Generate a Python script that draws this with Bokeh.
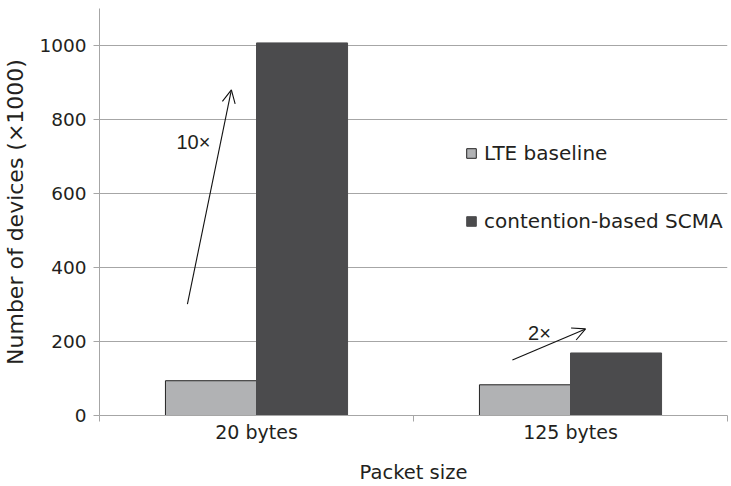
from bokeh.plotting import figure
from bokeh.models import (Range1d, FixedTicker, Legend, LegendItem, Arrow, OpenHead,
                          Label, ColumnDataSource)
from bokeh.transform import dodge
from bokeh.embed import file_html
from bokeh.resources import INLINE

# ---- data ----
categories = ["20 bytes", "125 bytes"]
lte_baseline = [94, 83]
scma = [1007, 169]
series_names = ["LTE baseline", "contention-based SCMA"]
y_ticks = [0, 200, 400, 600, 800, 1000]

# annotations (data coordinates)
arrow_10x = dict(x_start=0.28, y_start=301, x_end=0.42, y_end=880)
label_10x = dict(x=0.245, y=738, text="10\u00d7")
arrow_2x = dict(x_start=1.315, y_start=150, x_end=1.548, y_end=234)
label_2x = dict(x=1.365, y=223, text="2\u00d7")

FONT = "DejaVu Sans"
TXT = "#231f20"
GRID = "#a6a6a6"
LTE_FILL = "#b1b2b4"
SCMA_FILL = "#4b4b4d"

src = ColumnDataSource(dict(
    x=[i + 0.5 for i in range(len(categories))],
    cat=categories, lte=lte_baseline, scma=scma))

p = figure(width=731, height=486, output_backend="svg", toolbar_location=None,
           x_range=Range1d(0, len(categories)), y_range=Range1d(0, 1100),
           min_border_left=99, min_border_right=4, min_border_top=8, min_border_bottom=69)
p.outline_line_color = None
p.background_fill_color = "white"

bw = 0.29
r1 = p.vbar(x=dodge("x", -bw / 2, range=p.x_range), top="lte", width=bw, source=src,
            fill_color=LTE_FILL, line_color="#222222", line_width=1)
r2 = p.vbar(x=dodge("x", bw / 2, range=p.x_range), top="scma", width=bw, source=src,
            fill_color=SCMA_FILL, line_color=SCMA_FILL, line_width=1)

# grid
p.xgrid.visible = False
p.ygrid.ticker = FixedTicker(ticks=y_ticks)
p.ygrid.grid_line_color = GRID
p.ygrid.grid_line_width = 1

# y axis
ya = p.yaxis[0]
ya.ticker = FixedTicker(ticks=y_ticks)
ya.axis_label = "Number of devices (\u00d71000)"
ya.axis_line_color = GRID
ya.major_tick_line_color = GRID
ya.major_tick_out = 6
ya.major_tick_in = 0
ya.minor_tick_line_color = None
ya.major_label_text_font = FONT
ya.major_label_text_font_size = "18.5px"
ya.major_label_text_color = TXT
ya.major_label_standoff = 7
ya.axis_label_text_font = FONT
ya.axis_label_text_font_size = "22px"
ya.axis_label_text_font_style = "normal"
ya.axis_label_text_color = TXT
ya.axis_label_standoff = 8

# x axis: labels at category centres, ticks at category boundaries
xa = p.xaxis[0]
xa.ticker = FixedTicker(ticks=[i + 0.5 for i in range(len(categories))],
                        minor_ticks=list(range(len(categories) + 1)))
xa.major_label_overrides = {i + 0.5: c for i, c in enumerate(categories)}
xa.axis_label = "Packet size"
xa.axis_line_color = GRID
xa.major_tick_line_color = None
xa.major_tick_out = 0
xa.major_tick_in = 0
xa.minor_tick_line_color = GRID
xa.minor_tick_out = 6
xa.minor_tick_in = 0
xa.major_label_text_font = FONT
xa.major_label_text_font_size = "19px"
xa.major_label_text_color = TXT
xa.major_label_standoff = -1
xa.axis_label_text_font = FONT
xa.axis_label_text_font_size = "19.5px"
xa.axis_label_text_font_style = "normal"
xa.axis_label_text_color = TXT
xa.axis_label_standoff = 15

# legend
legend = Legend(items=[LegendItem(label=series_names[0], renderers=[r1]),
                       LegendItem(label=series_names[1], renderers=[r2])],
                location=(366, 181), orientation="vertical",
                glyph_width=12, glyph_height=12, label_standoff=7,
                label_height=26, spacing=42, padding=0, margin=0,
                label_text_font=FONT, label_text_font_size="20px",
                label_text_color=TXT, border_line_color=None,
                background_fill_alpha=0)
p.add_layout(legend, "center")

# annotations
for a in (arrow_10x, arrow_2x):
    p.add_layout(Arrow(end=OpenHead(size=13, line_width=1.1, line_color="#111111"),
                       line_width=1.1, line_color="#111111", **a))
for l in (label_10x, label_2x):
    p.add_layout(Label(text_font="Liberation Sans", text_font_size="20px", text_color=TXT,
                       text_baseline="middle", **l))

open("out.html", "w").write(file_html(p, INLINE))
